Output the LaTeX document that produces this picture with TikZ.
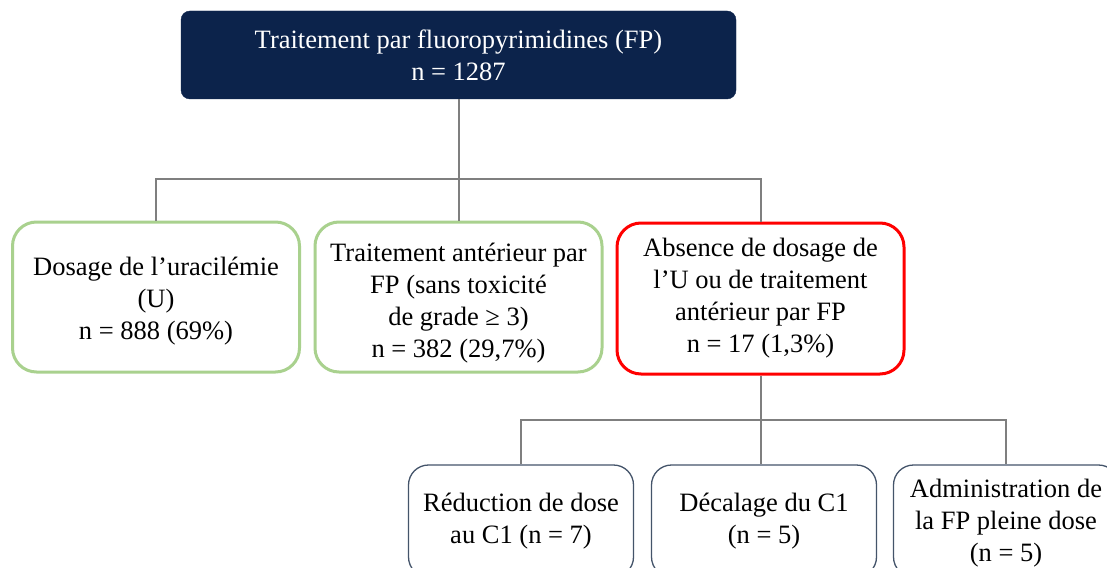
\documentclass[tikz,border=0pt]{standalone}
\usepackage{fontspec}
\setmainfont{Liberation Serif}
\definecolor{navy}{HTML}{0C234B}
\definecolor{lgreen}{HTML}{A9D18E}
\definecolor{bred}{HTML}{FF0000}
\definecolor{slate}{HTML}{44546A}
\definecolor{conngray}{HTML}{7F7F7F}
\tikzset{
  txt/.style={font=\fontsize{26.5}{32}\selectfont, align=center, inner sep=0pt},
  topbox/.style={txt, fill=navy, draw=navy, text=white, rounded corners=9pt,
    minimum width=555pt, minimum height=88pt},
  greenbox/.style={draw=lgreen, line width=3pt, rounded corners=24pt,
    minimum width=287pt, minimum height=150pt},
  redbox/.style={draw=bred, line width=3pt, rounded corners=24pt,
    minimum width=287pt, minimum height=151pt},
  subbox/.style={draw=slate, line width=1.3pt, rounded corners=20pt,
    minimum width=225pt, minimum height=112pt},
  conn/.style={draw=conngray, line width=2pt}
}
\begin{document}
\begin{tikzpicture}[x=1pt,y=-1pt]
\useasboundingbox (0,0) rectangle (1107,567);
\clip (0,0) rectangle (1107,567);
\fill[white] (0,0) rectangle (1107,567);

\node[topbox] (top) at (458.5,55) {Traitement par fluoropyrimidines (FP)\\n = 1287};

\node[greenbox] (b1) at (156,297) {};
\node[txt] (b1t) at ([yshift=-4pt]b1.center) {Dosage de l’uracilémie\\(U)\\n = 888 (69\%)};
\node[greenbox] (b2) at (458.5,297) {};
\node[txt] (b2t) at ([yshift=-6pt]b2.center) {Traitement antérieur par\\FP (sans toxicité\\de grade ≥ 3)\\n = 382 (29,7\%)};
\node[redbox] (b3) at (760.5,298.5) {};
\node[txt] (b3t) at (b3.center) {Absence de dosage de\\l’U ou de traitement\\antérieur par FP\\n = 17 (1,3\%)};

\node[subbox] (c1) at (521,521) {};
\node[txt] (c1t) at (c1.center) {Réduction de dose\\au C1 (n = 7)};
\node[subbox] (c2) at (764,521) {};
\node[txt] (c2t) at (c2.center) {Décalage du C1\\(n = 5)};
\node[subbox] (c3) at (1006,521) {};
\node[txt] (c3t) at ([yshift=-2pt]c3.center) {Administration de\\la FP pleine dose\\(n = 5)};

\coordinate (j1) at (458.5,179);
\draw[conn] (top.south) -- (j1);
\draw[conn] (b1.north) -- (b1.north |- j1) -- (b3.north |- j1) -- (b3.north);
\draw[conn] (j1) -- (b2.north);

\coordinate (j2) at (760.5,420);
\draw[conn] (b3.south) -- (j2);
\draw[conn] (c1.north) -- (c1.north |- j2) -- (c3.north |- j2) -- (c3.north);
\draw[conn] (j2) -- (j2 |- c2.north);
\end{tikzpicture}
\end{document}
